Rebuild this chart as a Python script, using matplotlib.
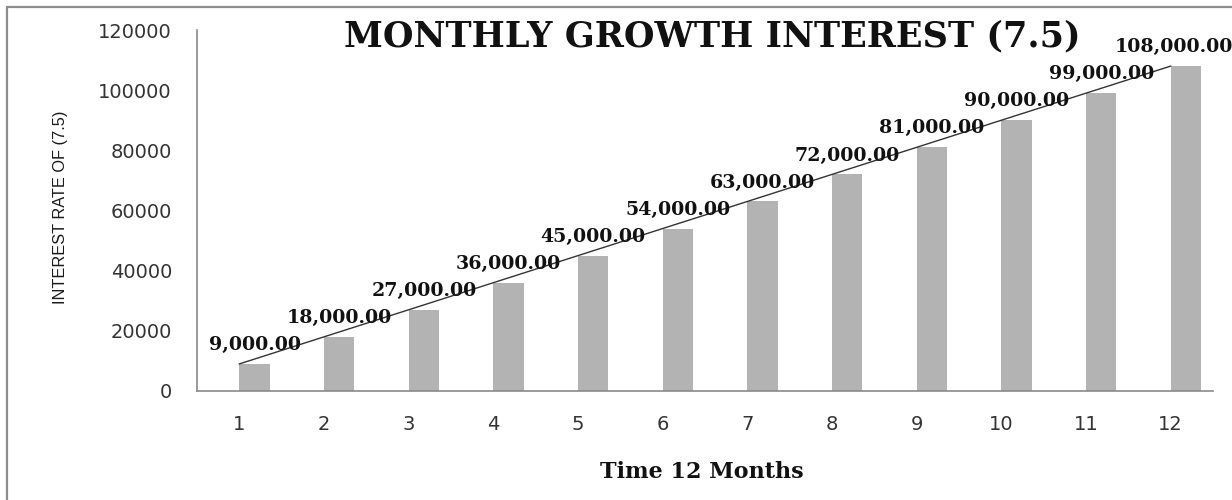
import numpy as np
import matplotlib
matplotlib.use("Agg")
from matplotlib import pyplot as plt
from matplotlib.patches import Rectangle

months = [1, 2, 3, 4, 5, 6, 7, 8, 9, 10, 11, 12]
interest = [9000, 18000, 27000, 36000, 45000, 54000,
            63000, 72000, 81000, 90000, 99000, 108000]
yticks = [0, 20000, 40000, 60000, 80000, 100000, 120000]

W, H = 1232, 500
fig = plt.figure(figsize=(W / 100, H / 100), dpi=100)
ax = fig.add_axes([197 / W, 109 / H, (1213 - 197) / W, (391 - 30) / H])

bar_w = 0.36
ax.bar(months, interest, width=bar_w, align="edge", color="#b3b3b3", zorder=2)

# linear trendline through the series
coef = np.polyfit(months, interest, 1)
ax.plot(months, np.polyval(coef, months), color="#333333", lw=1.0, zorder=3)

for i, (m, v) in enumerate(zip(months, interest)):
    dx = -9 if i == len(months) - 1 else 0
    ax.annotate(f"{v:,.2f}", (m + bar_w / 2, v), xytext=(dx, 10),
                textcoords="offset points", ha="center", va="baseline",
                family="DejaVu Serif", fontweight="bold", fontsize=13.7,
                color="#111111", annotation_clip=False, zorder=4)

ax.set(xlim=[0.5, 12.5], ylim=[0, 120000], xticks=months, yticks=yticks)
ax.set_yticklabels([str(t) for t in yticks])
ax.tick_params(length=0, labelsize=14, labelcolor="#333333")
ax.tick_params(axis="y", pad=18)
ax.tick_params(axis="x", pad=17)

for spine in ["top", "right"]:
    ax.spines[spine].set_visible(False)
for spine in ["left", "bottom"]:
    ax.spines[spine].set_color("#8a8a8a")
    ax.spines[spine].set_linewidth(1.2)

fig.text(712 / W, 1 - 36 / H, "MONTHLY GROWTH INTEREST (7.5)",
         family="DejaVu Serif", fontweight="bold", fontsize=25.3,
         ha="center", va="center", color="#111111")
fig.text(702 / W, 1 - 472 / H, "Time 12 Months",
         family="DejaVu Serif", fontweight="bold", fontsize=16,
         ha="center", va="center", color="#111111")
fig.text(60 / W, 1 - 207 / H, "INTEREST RATE OF (7.5)",
         family=["Liberation Sans", "DejaVu Sans"], fontsize=11.8,
         rotation=90, ha="center", va="center", color="#1a1a1a")

# chart border (right and bottom edges fall outside the picture)
fig.patches.append(Rectangle((7 / W, -0.1), 1.2, 1.1 - 7 / H, transform=fig.transFigure,
                             fill=False, edgecolor="#8c8c8c", lw=1.6))

fig.savefig("out.png", dpi=100)
